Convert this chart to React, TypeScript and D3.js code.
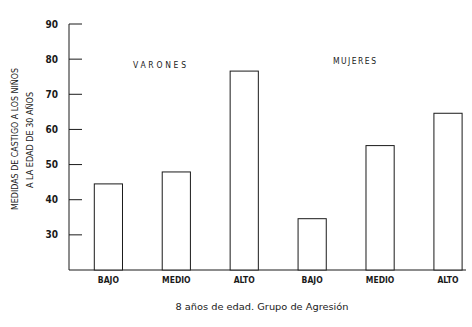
import React from "react";
import * as d3 from "d3";

const categories = ["BAJO", "MEDIO", "ALTO", "BAJO", "MEDIO", "ALTO"];
const values = [44.5, 47.9, 76.6, 34.6, 55.4, 64.6];
const yTicks = [30, 40, 50, 60, 70, 80, 90];
const groupLabels = ["VARONES", "MUJERES"];
const yTitle = ["MEDIDAS DE CASTIGO A LOS NIÑOS", "A LA EDAD DE 30 AÑOS"];
const xTitle = "8 años de edad. Grupo de Agresión";

const W = 472;
const H = 327;
const left = 69;
const right = 466;
const top = 24;
const bottom = 270;
const ink = "#1a1a1a";
const font = "'DejaVu Sans Condensed', 'DejaVu Sans', sans-serif";

export default function App() {
  const y = d3.scaleLinear().domain([20, 90]).range([bottom, top]);
  const x = d3
    .scaleBand<number>()
    .domain(categories.map((_, i) => i))
    .range([74.6, 481.8])
    .paddingInner(0.585)
    .paddingOuter(0.29);
  const bw = x.bandwidth();

  return (
    <svg
      width={W}
      height={H}
      style={{ position: "absolute", left: 0, top: 0, background: "#fff" }}
    >
      {/* axes */}
      <line x1={left} x2={left} y1={top} y2={bottom} stroke={ink} strokeWidth={1} />
      <line x1={left} x2={right} y1={bottom} y2={bottom} stroke={ink} strokeWidth={1} />
      {yTicks.map((t) => (
        <g key={t}>
          <line x1={left} x2={left + 13} y1={y(t)} y2={y(t)} stroke={ink} strokeWidth={1} />
          <text
            x={58}
            y={y(t) + 3.6}
            textAnchor="end"
            fontFamily={font}
            fontWeight="bold"
            fontSize={10}
            fill={ink}
          >
            {t}
          </text>
        </g>
      ))}

      {/* bars */}
      {values.map((v, i) => (
        <rect
          key={i}
          x={x(i)!}
          y={y(v)}
          width={bw}
          height={bottom - y(v)}
          fill="#fff"
          stroke={ink}
          strokeWidth={1}
        />
      ))}

      {/* category labels */}
      {categories.map((c, i) => (
        <text
          key={i}
          x={x(i)! + bw / 2}
          y={283}
          textAnchor="middle"
          fontFamily={font}
          fontWeight="bold"
          fontSize={8.5}
          fill={ink}
        >
          {c}
        </text>
      ))}

      {/* group labels */}
      <text
        x={133}
        y={67.5}
        fontFamily={font}
        fontSize={8.5}
        textLength={53}
        lengthAdjust="spacing"
        fill={ink}
      >
        {groupLabels[0]}
      </text>
      <text
        x={333}
        y={63.5}
        fontFamily={font}
        fontSize={8.5}
        textLength={43}
        lengthAdjust="spacing"
        fill={ink}
      >
        {groupLabels[1]}
      </text>

      {/* y title */}
      <text
        transform="translate(18,139) rotate(-90)"
        textAnchor="middle"
        fontFamily={font}
        fontSize={8.5}
        textLength={142}
        lengthAdjust="spacingAndGlyphs"
        fill={ink}
      >
        {yTitle[0]}
      </text>
      <text
        transform="translate(33,140) rotate(-90)"
        textAnchor="middle"
        fontFamily={font}
        fontSize={8.5}
        textLength={96}
        lengthAdjust="spacingAndGlyphs"
        fill={ink}
      >
        {yTitle[1]}
      </text>

      {/* x title */}
      <text
        x={262}
        y={310}
        textAnchor="middle"
        fontFamily={font}
        fontSize={9}
        textLength={173}
        lengthAdjust="spacingAndGlyphs"
        fill={ink}
      >
        {xTitle}
      </text>
    </svg>
  );
}
